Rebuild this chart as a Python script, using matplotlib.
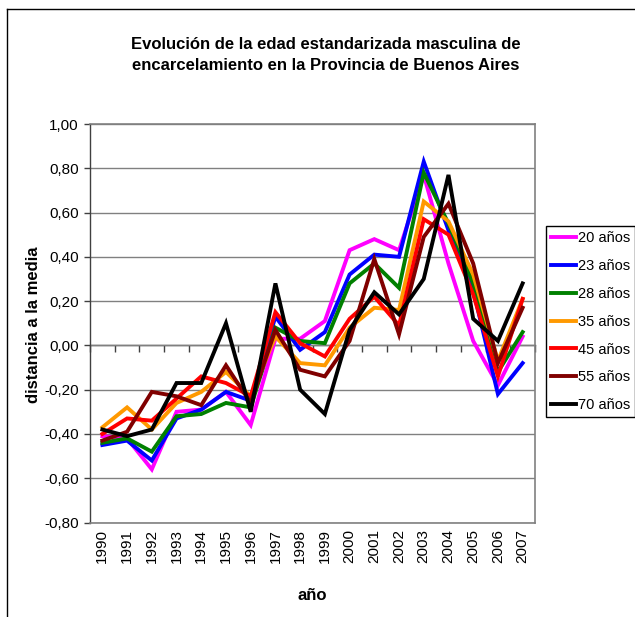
import matplotlib
matplotlib.use("Agg")
import matplotlib.pyplot as plt
import numpy as np
from matplotlib.lines import Line2D
from matplotlib.ticker import FixedLocator, FuncFormatter

plt.rcParams['font.family'] = ['Liberation Sans', 'DejaVu Sans']

years = [str(y) for y in range(1990, 2008)]
series_names = ["20 años", "23 años", "28 años", "35 años", "45 años", "55 años", "70 años"]
s20 = [-0.41, -0.42, -0.56, -0.30, -0.29, -0.21, -0.36, 0.03, 0.03, 0.11, 0.43, 0.48, 0.43, 0.77, 0.37, 0.02, -0.18, 0.04]
s23 = [-0.45, -0.43, -0.52, -0.33, -0.29, -0.21, -0.25, 0.13, -0.02, 0.06, 0.32, 0.41, 0.40, 0.83, 0.52, 0.25, -0.22, -0.08]
s28 = [-0.44, -0.42, -0.48, -0.32, -0.31, -0.26, -0.28, 0.08, 0.02, 0.01, 0.28, 0.37, 0.26, 0.78, 0.55, 0.28, -0.12, 0.06]
s35 = [-0.37, -0.28, -0.38, -0.26, -0.21, -0.12, -0.23, 0.04, -0.08, -0.09, 0.08, 0.17, 0.16, 0.65, 0.56, 0.32, -0.07, 0.21]
s45 = [-0.40, -0.33, -0.34, -0.24, -0.14, -0.17, -0.23, 0.15, 0.01, -0.05, 0.12, 0.22, 0.09, 0.57, 0.50, 0.23, -0.14, 0.21]
s55 = [-0.43, -0.39, -0.21, -0.23, -0.27, -0.09, -0.26, 0.07, -0.11, -0.14, 0.02, 0.39, 0.05, 0.49, 0.64, 0.37, -0.08, 0.17]
s70 = [-0.38, -0.41, -0.38, -0.17, -0.17, 0.10, -0.30, 0.28, -0.20, -0.31, 0.07, 0.24, 0.14, 0.30, 0.77, 0.12, 0.02, 0.28]
colors = ["#FF00FF", "#0000FF", "#008000", "#FF9900", "#FF0000", "#800000", "#000000"]
yticks = [-0.8, -0.6, -0.4, -0.2, 0.0, 0.2, 0.4, 0.6, 0.8, 1.0]

title = "Evolución de la edad estandarizada masculina de\nencarcelamiento en la Provincia de Buenos Aires"
ylabel = "distancia a la media"
xlabel = "año"

W, H = 635, 617
fig = plt.figure(figsize=(W / 100, H / 100), dpi=100)
ax = fig.add_axes([90 / W, 1 - 522.5 / H, 445 / W, (522.5 - 124) / H])

x = np.arange(len(years))
for vals, name, c in zip([s20, s23, s28, s35, s45, s55, s70], series_names, colors):
    ax.plot(x, vals, color=c, lw=2.8, label=name, solid_joinstyle='miter', zorder=3)

ax.set_xlim(-0.5, len(years) - 0.5)
ax.set_ylim(-0.8, 1.0)
ax.yaxis.set_major_locator(FixedLocator(yticks))
ax.yaxis.set_major_formatter(FuncFormatter(lambda v, p: f"{v:.2f}".replace('.', ',').replace('-0,00', '0,00')))
ax.grid(axis='y', color='#808080', lw=1, zorder=0)
ax.tick_params(axis='y', direction='out', length=4, width=1, color='#404040', pad=4, labelsize=11)

ax.set_xticks(x)
ax.set_xticklabels(years, rotation=90)
ax.tick_params(axis='x', length=0, pad=5, labelsize=11)

for s in ['top', 'right', 'bottom']:
    ax.spines[s].set_color('#808080')
    ax.spines[s].set_linewidth(1.2)
ax.spines['left'].set_color('#404040')
ax.spines['left'].set_linewidth(1)

sec = ax.secondary_xaxis(0.8 / 1.8)
sec.set_xticks(np.arange(-0.5, len(years), 1.0))
sec.tick_params(axis='x', direction='out', length=5, width=1, color='#404040', labelbottom=False, labeltop=False)
sec.spines['bottom'].set_color('#404040')
sec.spines['bottom'].set_linewidth(1)
sec.xaxis.set_ticklabels([])

fig.text(326 / W, 1 - 55 / H, title, ha='center', va='center', fontsize=12, fontweight='bold', linespacing=1.55)
fig.text(34 / W, 1 - 325 / H, ylabel, rotation=90, ha='center', va='center', fontsize=12, fontweight='bold')
fig.text(312 / W, 1 - 595 / H, xlabel, ha='center', va='center', fontsize=12, fontweight='bold')

leg = fig.legend(loc='upper left', bbox_to_anchor=(546 / W, 1 - 226 / H), fontsize=10.5,
                 frameon=True, fancybox=False, edgecolor='black', framealpha=1,
                 handlelength=1.7, handletextpad=0.15, labelspacing=0.95,
                 borderpad=0.35, borderaxespad=0)
leg.get_frame().set_linewidth(1)
for h in leg.legend_handles:
    h.set_linewidth(2.8)

fig.add_artist(Line2D([7 / W, 7 / W], [0, 1 - 9 / H], transform=fig.transFigure, color='black', lw=1))
fig.add_artist(Line2D([7 / W, 1], [1 - 9 / H, 1 - 9 / H], transform=fig.transFigure, color='black', lw=1))

fig.savefig("out.png", dpi=100)
